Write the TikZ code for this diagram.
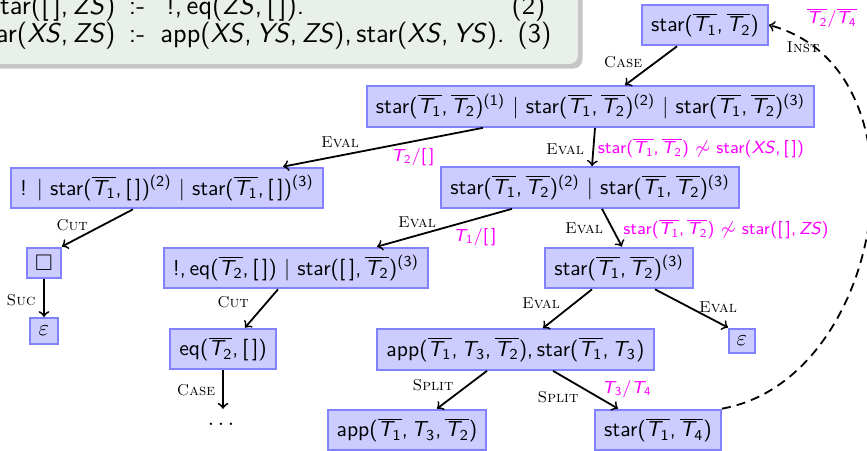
\documentclass[tikz,border=0pt]{standalone}
\usepackage{amsmath,amssymb}
\usetikzlibrary{shadows,calc}
\definecolor{boxfill}{RGB}{204,204,255}
\definecolor{boxline}{RGB}{130,130,255}
\definecolor{notefill}{RGB}{233,239,233}
\definecolor{subcol}{RGB}{255,0,255}
\def\pxu{0.443pt}
\newcommand{\oT}[1]{$\overline{\text{\itshape T}_{\text{#1}}}$}
\newcommand{\pT}[1]{$\text{\itshape T}_{\text{#1}}$}
\newcommand{\emptyl}{[\,]}
\newcommand{\cs}{,\,}
\tikzset{
  gbox/.style={draw=boxline, fill=boxfill, line width=0.9pt, font=\sffamily\fontsize{9.6}{11}\selectfont,
    inner xsep=4pt, inner ysep=2pt, minimum height=18pt},
  sbox/.style={draw=boxline, fill=boxfill, line width=0.9pt, font=\sffamily,
    inner sep=1pt},
  rulelbl/.style={font=\rmfamily\scriptsize\scshape, inner sep=1pt},
  subst/.style={font=\sffamily\fontsize{7.7}{9}\selectfont, text=subcol, inner sep=1pt},
  prog/.style={font=\sffamily\fontsize{12}{14}\selectfont, inner sep=0pt},
  edge/.style={->, thick},
}
\begin{document}
\begin{tikzpicture}[x=0.443pt, y=-0.443pt]
\useasboundingbox (0,0) rectangle (867,451);
\begin{scope}
\clip (0,0) rectangle (867,451);
% program box
\fill[notefill, rounded corners=4pt, drop shadow={opacity=0.45, shadow xshift=2pt, shadow yshift=-2pt}] (-60,-60) rectangle (578,64);
\node[prog, anchor=base east] (c2l) at (116,15) {star(\emptyl\cs\textit{ZS})};
\node[prog, anchor=base] (c2m) at (137,15) {:-};
\node[prog, anchor=base west] (c2r) at (166,15) {!\cs eq(\textit{ZS}\cs\emptyl).};
\node[prog, anchor=base east] (n2) at (546,15) {(2)};
\node[prog, anchor=base east] (c3l) at (116,43) {star(\textit{XS}\cs\textit{ZS})};
\node[prog, anchor=base] (c3m) at (137,43) {:-};
\node[prog, anchor=base west] (c3r) at (160,43) {app(\textit{XS}\cs\textit{YS}\cs\textit{ZS})\cs star(\textit{XS}\cs\textit{YS}).};
\node[prog, anchor=base east] (n3) at (552,43) {(3)};

% tree nodes
\node[gbox] (top) at (705,25) {star(\oT{1}\cs\oT{2})};
\node[gbox] (l1) at (590.5,106.5) {star(\oT{1}\cs\oT{2})\textsuperscript{(1)} | star(\oT{1}\cs\oT{2})\textsuperscript{(2)} | star(\oT{1}\cs\oT{2})\textsuperscript{(3)}};
\node[gbox] (left) at (167,188) {! | star(\oT{1}\cs\emptyl)\textsuperscript{(2)} | star(\oT{1}\cs\emptyl)\textsuperscript{(3)}};
\node[gbox] (mid) at (590,187.5) {star(\oT{1}\cs\oT{2})\textsuperscript{(2)} | star(\oT{1}\cs\oT{2})\textsuperscript{(3)}};
\node[sbox, minimum width=15pt, minimum height=13.7pt] (sq) at (44,263) {$\square$};
\node[sbox, minimum width=12.4pt, minimum height=11.5pt] (epsL) at (44,331) {$\varepsilon$};
\node[gbox] (n7) at (296,268) {!\cs eq(\oT{2}\cs\emptyl) | star(\emptyl\cs\oT{2})\textsuperscript{(3)}};
\node[gbox] (n8) at (619,268) {star(\oT{1}\cs\oT{2})\textsuperscript{(3)}};
\node[gbox] (eqn) at (223,349) {eq(\oT{2}\cs\emptyl)};
\node[font=\sffamily\fontsize{9.6}{11}\selectfont, inner xsep=1pt, inner ysep=6pt] (dots) at (223,424) {$\dots$};
\node[gbox] (n12) at (515.5,349.5) {app(\oT{1}\cs\pT{3}\cs\oT{2})\cs star(\oT{1}\cs\pT{3})};
\node[sbox, minimum width=11.5pt, minimum height=11pt] (epsR) at (742,341) {$\varepsilon$};
\node[gbox] (n13) at (407,430) {app(\oT{1}\cs\pT{3}\cs\oT{2})};
\node[gbox] (n14) at (658,430) {star(\oT{1}\cs\oT{4})};

% edges
\draw[edge] ([xshift=-28*\pxu]top.south) -- ([xshift=34.5*\pxu]l1.north);
\draw[edge] ([xshift=-107.5*\pxu]l1.south) -- ([xshift=116*\pxu]left.north);
\draw[edge] ([xshift=4.5*\pxu]l1.south) -- ([xshift=2*\pxu]mid.north);
\draw[edge] ([xshift=-34*\pxu]left.south) -- (sq.north east);
\draw[edge] (sq) -- (epsL);
\draw[edge] ([xshift=-78*\pxu]mid.south) -- ([xshift=81*\pxu]n7.north);
\draw[edge] ([xshift=12*\pxu]mid.south) -- ([xshift=3*\pxu]n8.north);
\draw[edge] ([xshift=-18*\pxu]n7.south) -- ([xshift=22*\pxu]eqn.north);
\draw[edge] (eqn.south) -- (dots.north);
\draw[edge] ([xshift=-27*\pxu]n8.south) -- ([xshift=27.5*\pxu]n12.north);
\draw[edge] ([xshift=36*\pxu]n8.south) -- (epsR.north west);
\draw[edge] ([xshift=-28.5*\pxu]n12.south) -- ([xshift=30*\pxu]n13.north);
\draw[edge] ([xshift=37.5*\pxu]n12.south) -- ([xshift=-40*\pxu]n14.north);
\draw[edge, dash pattern=on 4pt off 2.7pt] (n14.north east) .. controls (885,380) and (935,70) .. (top.east);

% labels
\node[rulelbl] (r1) at (623,62) {Case};
\node[rulelbl] (r2) at (340,142) {Eval};
\node[subst] (s2) at (413,157) {\pT{2}/\emptyl};
\node[rulelbl] (r3) at (565,149) {Eval};
\node[subst] (s3) at (701,148) {star(\oT{1}\cs\oT{2}) $\not\sim$ star(\textit{XS}\cs\emptyl)};
\node[rulelbl] (r4) at (584,228) {Eval};
\node[subst] (s4) at (726,229) {star(\oT{1}\cs\oT{2}) $\not\sim$ star(\emptyl\cs\textit{ZS})};
\node[rulelbl] (r5) at (417,222) {Eval};
\node[subst] (s5) at (475,237) {\pT{1}/\emptyl};
\node[rulelbl] (r6) at (72,225) {Cut};
\node[rulelbl] (r7) at (21,300) {Suc};
\node[rulelbl] (r8) at (233,302) {Cut};
\node[rulelbl] (r9) at (196,390) {Case};
\node[rulelbl] (r10) at (541,303) {Eval};
\node[rulelbl] (r11) at (718,307) {Eval};
\node[rulelbl] (r12) at (433,385) {Split};
\node[rulelbl] (r13) at (558,397) {Split};
\node[subst] (s13) at (627,389) {\pT{3}/\pT{4}};
\node[rulelbl] (r14) at (803,47) {Inst};
\node[subst] (s14) at (832,18) {\oT{2}/\oT{4}};
\end{scope}
\end{tikzpicture}
\end{document}
